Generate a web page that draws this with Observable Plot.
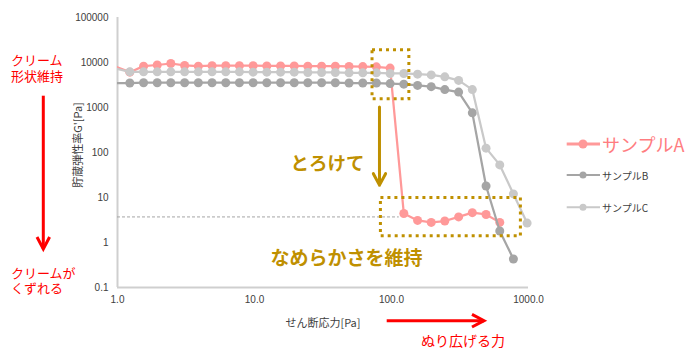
<!DOCTYPE html>
<html><head><meta charset="utf-8">
<script src="https://cdn.jsdelivr.net/npm/d3@7"></script>
<script src="https://cdn.jsdelivr.net/npm/@observablehq/plot@0.6"></script>
<style>
body{margin:0;background:#fff;}
#chart{position:relative;width:700px;height:358px;overflow:hidden;}
.note{position:absolute;white-space:pre;font-family:'Noto Sans CJK JP','Noto Sans',sans-serif;color:#ff0000;font-size:13px;margin:0;padding:0;}
</style></head><body><div id="chart"></div>
<script>
// shear stress [Pa] (shared sample grid, 10 points per decade)
const stress = [0.977, 1.23, 1.55, 1.95, 2.45, 3.09, 3.89, 4.90, 6.17, 7.76,
                9.77, 12.3, 15.5, 19.5, 24.5, 30.9, 38.9, 49.0, 61.7, 77.6,
                97.7, 123, 155, 195, 245, 309, 389, 490, 617, 776, 977];
// storage modulus G' [Pa]
const gA = [8000, 6100, 8300, 8800, 9500, 8600, 8300, 8500, 8500, 8500,
            8500, 8400, 8400, 8400, 8300, 8300, 8300, 8200, 8100, 8000,
            7500, 4.4, 3.1, 2.8, 3.0, 3.7, 4.6, 4.2, 2.8];
const gB = [3500, 3500, 3550, 3550, 3550, 3550, 3550, 3550, 3550, 3550,
            3550, 3550, 3550, 3550, 3550, 3550, 3550, 3500, 3500, 3500,
            3400, 3300, 3100, 2900, 2500, 2200, 760, 18, 1.8, 0.43];
const gC = [7300, 6200, 6200, 6200, 6200, 6200, 6200, 6200, 6200, 6200,
            6100, 6100, 6100, 6100, 6000, 6000, 6000, 5900, 5900, 5900,
            5700, 5700, 5500, 5300, 4800, 4000, 2500, 125, 53, 12, 2.7];
const seriesNames = ["サンプルA", "サンプルB", "サンプルC"];
const seriesColors = ["#ff9999", "#a5a5a5", "#c9c9c9"];
const xTicks = [1, 10, 100, 1000];
const xTickLabels = ["1.0", "10.0", "100.0", "1000.0"];
const yTicks = [0.1, 1, 10, 100, 1000, 10000, 100000];
const yTickLabels = ["0.1", "1", "10", "100", "1000", "10000", "100000"];
// annotation references (data space)
const plateauLevel = [{y: 3.7, x1: 1, x2: 114}];
const highlightBoxes = [{x1: 72.7, x2: 135, y1: 1530, y2: 18750}, {x1: 83.7, x2: 880, y1: 1.38, y2: 9.8}];
const meltArrow = [{x: 81.7, y1: 1030, y2: 18.8}];

const gold = "#bf9000";
const red = "#ff0000";
const cjk = "'Noto Sans CJK JP', 'Noto Sans', sans-serif";

const toRows = (g) => g.map((v, i) => ({x: stress[i], y: v}));
const series = [gA, gB, gC].map(toRows);

const xFmt = new Map(xTicks.map((t, i) => [t, xTickLabels[i]]));
const yFmt = new Map(yTicks.map((t, i) => [t, yTickLabels[i]]));

const marks = [
  Plot.ruleX([1], {stroke: "#cfcfcf", strokeWidth: 2}),
  Plot.ruleY([0.1], {stroke: "#cfcfcf", strokeWidth: 2}),
  Plot.axisY({ticks: yTicks, tickFormat: d => yFmt.get(d), tickSize: 0, tickPadding: 9, label: null}),
  Plot.axisX({ticks: xTicks, tickFormat: d => xFmt.get(d), tickSize: 0, tickPadding: 8, label: null}),
  Plot.ruleY(plateauLevel, {y: "y", x1: "x1", x2: "x2", stroke: "#a6a6a6", strokeWidth: 1, strokeDasharray: "3,2"})
];
series.forEach((rows, i) => {
  marks.push(Plot.line(rows, {x: "x", y: "y", stroke: seriesColors[i], strokeWidth: 2.25, clip: true}));
  marks.push(Plot.dot(rows.filter(d => d.x >= 1), {x: "x", y: "y", r: 4.5, fill: seriesColors[i], stroke: "none"}));
});
marks.push(Plot.rect(highlightBoxes, {x1: "x1", x2: "x2", y1: "y1", y2: "y2", fill: "none", stroke: gold, strokeWidth: 3, strokeDasharray: "3,4"}));
marks.push(Plot.arrow(meltArrow, {x: "x", y1: "y1", y2: "y2", stroke: gold, strokeWidth: 3, headLength: 6.5, headAngle: 56}));

const plot = Plot.plot({
  width: 700, height: 358,
  marginLeft: 117, marginRight: 172, marginTop: 17, marginBottom: 71,
  style: {fontFamily: "'Liberation Sans', Arial, sans-serif", fontSize: "10px", color: "#404040", background: "white"},
  x: {type: "log", domain: [1, 1000]},
  y: {type: "log", domain: [0.1, 100000]},
  marks
});
const chart = document.getElementById("chart");
chart.appendChild(plot);

// outer annotations, legend and axis titles
const svg = d3.select(plot);
const ann = svg.append("g");
function txt(s, x, y, size, fill, opts = {}) {
  const t = ann.append("text").text(s).attr("x", x).attr("y", y)
    .attr("font-family", cjk).attr("font-size", size).attr("fill", fill)
    .attr("dominant-baseline", "central").attr("text-anchor", opts.anchor || "start");
  if (opts.bold) t.attr("font-weight", "bold");
  if (opts.rotate) t.attr("transform", `rotate(${opts.rotate},${x},${y})`);
  return t;
}
function note(s, left, top, lh) {
  const d = document.createElement("div");
  d.className = "note";
  d.textContent = s;
  d.style.left = left + "px";
  d.style.top = top + "px";
  d.style.lineHeight = lh + "px";
  chart.appendChild(d);
}
function arrow(x1, y1, x2, y2, color, w, hl, hw) {
  ann.append("line").attr("x1", x1).attr("y1", y1).attr("x2", x2).attr("y2", y2)
    .attr("stroke", color).attr("stroke-width", w);
  const ang = Math.atan2(y2 - y1, x2 - x1);
  const p = (a) => [x2 - hl * Math.cos(ang) + a * hw * Math.sin(ang), y2 - hl * Math.sin(ang) - a * hw * Math.cos(ang)];
  const [ax, ay] = p(1), [bx, by] = p(-1);
  ann.append("path").attr("d", `M${ax},${ay}L${x2},${y2}L${bx},${by}`)
    .attr("fill", "none").attr("stroke", color).attr("stroke-width", w).attr("stroke-linejoin", "miter");
}

// axis titles
txt("貯蔵弾性率G'[Pa]", 77, 145, 11, "#404040", {anchor: "middle", rotate: -90});
txt("せん断応力[Pa]", 323, 321.7, 11, "#404040", {anchor: "middle"});

// left red annotations
note("クリーム\n形状維持", 11, 52.2, 15.5);
arrow(43.3, 95.7, 43.3, 249, red, 3, 12, 6.3);
note("クリームが\nくずれる", 11, 264.7, 15.2);

// bottom red annotation
arrow(386.7, 320.7, 484, 320.7, red, 3, 12, 6.3);
txt("ぬり広げる力", 421, 340, 14, red);

// gold annotations
txt("とろけて", 290.5, 161.7, 18.5, gold, {bold: true});
txt("なめらかさを維持", 270.5, 256.7, 19, gold, {bold: true});

// legend
const legY = [144, 175, 207.3];
const legSize = [18, 10, 10];
const legText = ["#ff7c80", "#404040", "#404040"];
seriesNames.forEach((name, i) => {
  ann.append("line").attr("x1", 566.7).attr("x2", 600).attr("y1", legY[i]).attr("y2", legY[i])
    .attr("stroke", seriesColors[i]).attr("stroke-width", i === 0 ? 3 : 2);
  ann.append("circle").attr("cx", 583).attr("cy", legY[i]).attr("r", i === 0 ? 4.5 : 3.5).attr("fill", seriesColors[i]);
  txt(name, 602, legY[i], legSize[i], legText[i]);
});
</script>
</body></html>
